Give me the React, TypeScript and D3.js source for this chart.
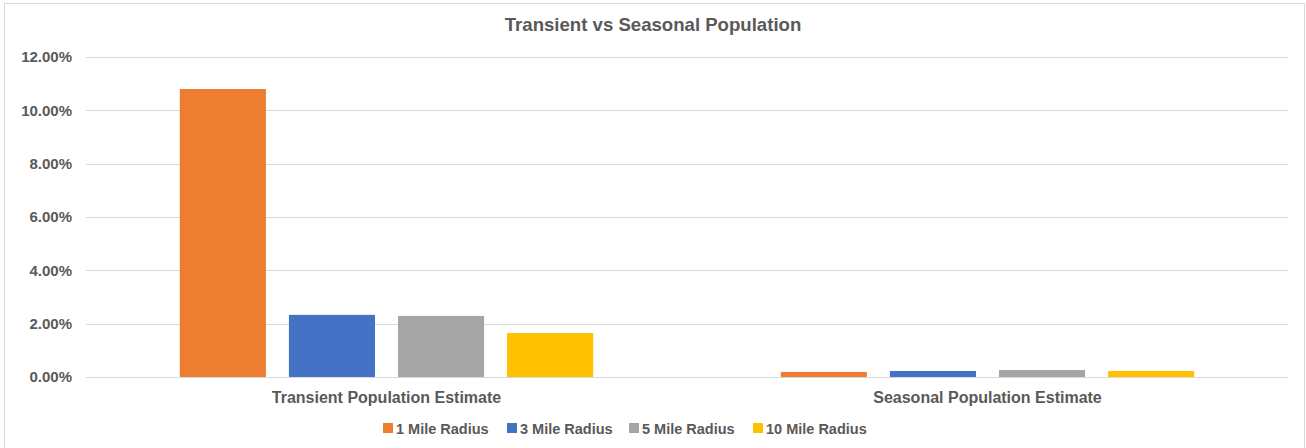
import React, { useRef, useEffect } from 'react';
import * as d3 from 'd3';

const categories = ['Transient Population Estimate', 'Seasonal Population Estimate'];
const seriesNames = ['1 Mile Radius', '3 Mile Radius', '5 Mile Radius', '10 Mile Radius'];
const seriesColors = ['#ed7d31', '#4472c4', '#a5a5a5', '#ffc000'];
// values per series, [transient, seasonal]
const mile1 = [0.108, 0.0019];
const mile3 = [0.0233, 0.00225];
const mile5 = [0.0229, 0.0026];
const mile10 = [0.0165, 0.00225];
const yTicks = [0, 0.02, 0.04, 0.06, 0.08, 0.1, 0.12];

const App = () => {
    const svgRef = useRef<SVGSVGElement>(null);

    useEffect(() => {
        const width = 1306, height = 448;
        const margin = { top: 57, right: 18, bottom: 71, left: 86 };
        const svg = d3.select(svgRef.current);
        svg.selectAll('*').remove();

        const font = '"Liberation Sans", Arial, sans-serif';
        const textColor = '#595959';
        const allSeries = [mile1, mile3, mile5, mile10];

        // chart border
        svg.append('rect')
            .attr('x', 4.5).attr('y', 3.5)
            .attr('width', 1300).attr('height', 460)
            .attr('fill', '#fff').attr('stroke', '#d9d9d9');

        // title
        svg.append('text')
            .attr('x', 653).attr('y', 31)
            .attr('text-anchor', 'middle')
            .style('font-family', font).style('font-weight', 'bold')
            .style('font-size', '18.6px').attr('fill', textColor)
            .text('Transient vs Seasonal Population');

        const x0 = d3.scaleBand()
            .domain(categories)
            .range([margin.left, width - margin.right])
            .paddingInner(0).paddingOuter(0);
        const x1 = d3.scaleBand()
            .domain(seriesNames)
            .range([0, x0.bandwidth()])
            .paddingInner(0.211).paddingOuter(0.86);
        const y = d3.scaleLinear()
            .domain([0, 0.12])
            .range([height - margin.bottom, margin.top]);

        // gridlines
        svg.append('g').selectAll('line')
            .data(yTicks)
            .enter().append('line')
            .attr('x1', margin.left).attr('x2', width - margin.right)
            .attr('y1', d => Math.round(y(d)) + 0.5).attr('y2', d => Math.round(y(d)) + 0.5)
            .attr('stroke', '#d9d9d9').attr('stroke-width', 1);

        // y axis labels
        const yAxis = d3.axisLeft(y).tickValues(yTicks)
            .tickFormat(d3.format('.2%')).tickSize(0).tickPadding(14);
        const yg = svg.append('g')
            .attr('transform', 'translate(' + margin.left + ',0)')
            .call(yAxis);
        yg.select('.domain').remove();
        yg.selectAll('text')
            .style('font-family', font).style('font-weight', 'bold')
            .style('font-size', '15px').attr('fill', textColor);

        // bars
        const groups = svg.append('g').selectAll('g')
            .data(categories)
            .enter().append('g')
            .attr('transform', d => 'translate(' + x0(d) + ',0)');
        groups.selectAll('rect')
            .data((c, ci) => seriesNames.map((s, si) => ({ s, si, v: allSeries[si][ci] })))
            .enter().append('rect')
            .attr('x', d => x1(d.s))
            .attr('width', x1.bandwidth())
            .attr('y', d => y(d.v))
            .attr('height', d => y(0) - y(d.v))
            .attr('fill', d => seriesColors[d.si]);

        // x axis
        const xAxis = d3.axisBottom(x0).tickSize(0).tickPadding(15);
        const xg = svg.append('g')
            .attr('transform', 'translate(0,' + y(0) + ')')
            .call(xAxis);
        xg.select('.domain').attr('stroke', '#d9d9d9');
        xg.selectAll('text')
            .style('font-family', font).style('font-weight', 'bold')
            .style('font-size', '16px').attr('fill', textColor);

        // legend
        const legendX = [383, 507, 629, 753];
        const legend = svg.append('g').selectAll('g')
            .data(seriesNames)
            .enter().append('g')
            .attr('transform', (d, i) => 'translate(' + legendX[i] + ',423)');
        legend.append('rect')
            .attr('width', 10).attr('height', 10)
            .attr('fill', (d, i) => seriesColors[i]);
        legend.append('text')
            .attr('x', 13).attr('y', 10.5)
            .style('font-family', font).style('font-weight', 'bold')
            .style('font-size', '14.5px').attr('fill', textColor)
            .text(d => d);
    }, []);

    return (
        <div style={{ position: 'absolute', left: 0, top: 0 }}>
            <svg ref={svgRef} width={1306} height={448} style={{ display: 'block' }}></svg>
        </div>
    );
};

export default App;
